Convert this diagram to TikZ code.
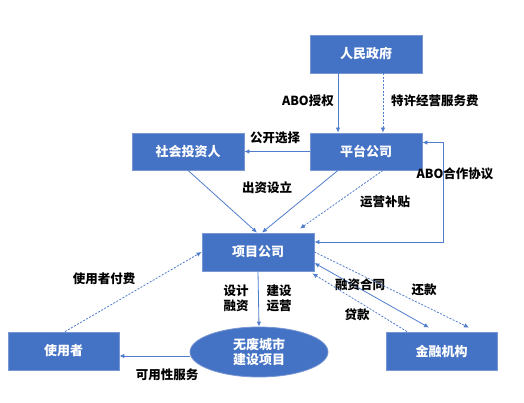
\documentclass[tikz,border=0pt]{standalone}
\usepackage{fontspec}
\setmainfont{Noto Sans CJK SC}
\usetikzlibrary{arrows.meta,shapes.geometric,calc}
\definecolor{boxblue}{RGB}{68,114,196}
\definecolor{boxedge}{RGB}{120,150,210}
\definecolor{lineblue}{RGB}{80,125,205}
\begin{document}
\begin{tikzpicture}[x=1pt,y=-1pt,
  box/.style={rectangle,fill=boxblue,draw=boxedge,line width=0.8pt,text=white,font=\fontsize{13}{15}\selectfont\bfseries,minimum width=112pt,minimum height=38pt,inner sep=0pt},
  ell/.style={ellipse,fill=boxblue,draw=boxedge,line width=0.8pt,text=white,font=\fontsize{13}{15}\selectfont\bfseries,minimum width=138pt,minimum height=50pt,inner sep=0pt,align=center},
  arr/.style={draw=lineblue,line width=0.8pt,-{Latex[length=5pt,width=4.5pt]}},
  biarr/.style={draw=lineblue,line width=0.8pt,{Latex[length=5pt,width=4.5pt]}-{Latex[length=5pt,width=4.5pt]}},
  darr/.style={arr,dash pattern=on 2pt off 1.5pt},
  lbl/.style={font=\fontsize{12.5}{15}\selectfont\bfseries,text=black,inner sep=0pt,align=center}
  ]
\useasboundingbox (0,0) rectangle (524,403);
\node[box] (gov) at (366,54) {人民政府};
\node[box,minimum height=37pt] (pt) at (366,151.5) {平台公司};
\node[box,minimum height=37pt] (inv) at (188,151.5) {社会投资人};
\node[box] (proj) at (258,252) {项目公司};
\node[box,minimum width=111pt] (user) at (63.5,351) {使用者};
\node[box,minimum width=111pt] (fin) at (441.5,351) {金融机构};
\node[ell] (wf) at (259,352) {无废城市\\建设项目};

% government to platform
\draw[arr] ([xshift=-28]gov.south) -- ([xshift=-28]pt.north);
\draw[darr] ([xshift=17]gov.south) -- ([xshift=17]pt.north);
\node[lbl,anchor=east] (l1) at (334,101) {ABO授权};
\node[lbl,anchor=west] (l2) at (391,101) {特许经营服务费};

% platform to investor
\draw[arr] (pt.west) -- (inv.east);
\node[lbl] (l3) at (275,138) {公开选择};

% to project company
\draw[arr] (inv.south) -- ([xshift=-1]proj.north);
\draw[arr] ([xshift=-28]pt.south) -- ([xshift=4]proj.north);
\draw[darr] ([xshift=17]pt.south) -- ([xshift=42,yshift=4]proj.north);
\node[lbl] (l4) at (267,188) {出资设立};
\node[lbl] (l5) at (385,202) {运营补贴};

% ABO cooperation agreement
\coordinate (abo) at (443,242);
\draw[biarr] ([yshift=10]proj.east) -- (abo) |- ([yshift=9]pt.east);
\node[lbl] (l6) at (455,174) {ABO合作协议};

% project to waste-free city project
\draw[arr] (proj.south) -- (wf.north);
\node[lbl] (l7) at (236,298) {设计\\融资};
\node[lbl] (l8) at (279,298) {建设\\运营};

% to users
\draw[arr] ([yshift=-4]wf.west) -- ([yshift=-4]wf.west -| user.east);
\node[lbl] (l9) at (167,375) {可用性服务};
\draw[darr] ([xshift=1.5]user.north) -- (proj.west);
\node[lbl] (l10) at (104,279) {使用者付费};

% financing
\draw[biarr] ([yshift=-11]proj.east) -- ([xshift=-12.5,yshift=4]fin.north);
\node[lbl] (l11) at (360,285) {融资合同};
\draw[darr] ([xshift=-34.5]fin.north) -- ([xshift=-2,yshift=-2]proj.south east);
\node[lbl] (l12) at (357,315) {贷款};
\draw[darr] (proj.east) -- ([xshift=27.5,yshift=4]fin.north);
\node[lbl] (l13) at (424,290) {还款};
\end{tikzpicture}
\end{document}
